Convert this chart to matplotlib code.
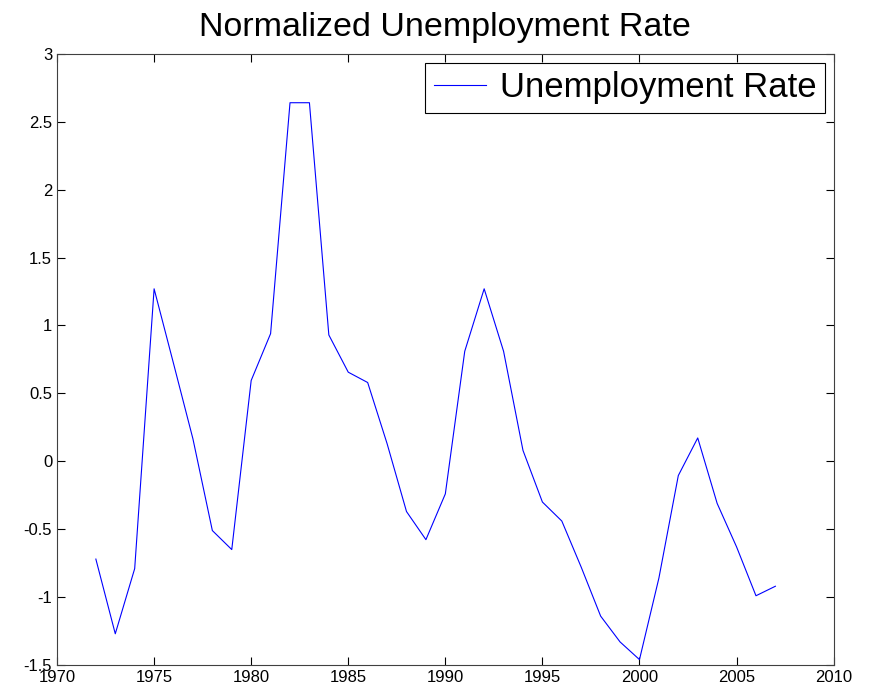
import matplotlib
matplotlib.use('Agg')
import matplotlib.pyplot as plt

plt.rcParams.update({
    'font.family': ['Liberation Sans', 'DejaVu Sans'],
    'xtick.direction': 'in',
    'ytick.direction': 'in',
    'xtick.top': True,
    'ytick.right': True,
    'xtick.labelsize': 12,
    'ytick.labelsize': 12,
})

# values
years = list(range(1972, 2008))
rate = [-0.72, -1.27, -0.79, 1.27, 0.72, 0.165, -0.51, -0.65, 0.595, 0.94,
        2.64, 2.64, 0.93, 0.656, 0.58, 0.13, -0.37, -0.577, -0.24, 0.81,
        1.27, 0.81, 0.08, -0.30, -0.44, -0.78, -1.14, -1.33, -1.46, -0.86,
        -0.105, 0.172, -0.31, -0.63, -0.99, -0.92]
xticks = [1970, 1975, 1980, 1985, 1990, 1995, 2000, 2005, 2010]
yticks = [-1.5, -1, -0.5, 0, 0.5, 1, 1.5, 2, 2.5, 3]

fig = plt.figure(figsize=(8.72, 6.91), dpi=100)
ax = fig.add_axes([0.0654, 0.0376, 0.8906, 0.8845])

ax.plot(years, rate, color='#0000ff', linewidth=0.8, label='Unemployment Rate')

ax.set_xlim(1970, 2010)
ax.set_ylim(-1.5, 3)
ax.set_xticks(xticks)
ax.set_yticks(yticks)
ax.set_yticklabels([f'{v:g}' for v in yticks])
ax.tick_params(length=6, width=0.8)
for s in ax.spines.values():
    s.set_linewidth(0.8)
    s.set_color('#404040')

ax.set_title('Normalized Unemployment Rate', fontsize=24.5, pad=13)
leg = ax.legend(loc='upper right', fontsize=25, fancybox=False, framealpha=1,
                edgecolor='black', handlelength=1.5, handletextpad=0.4,
                borderpad=0.25, borderaxespad=0.25)
leg.get_frame().set_linewidth(0.8)

fig.savefig('out.png', dpi=100)
